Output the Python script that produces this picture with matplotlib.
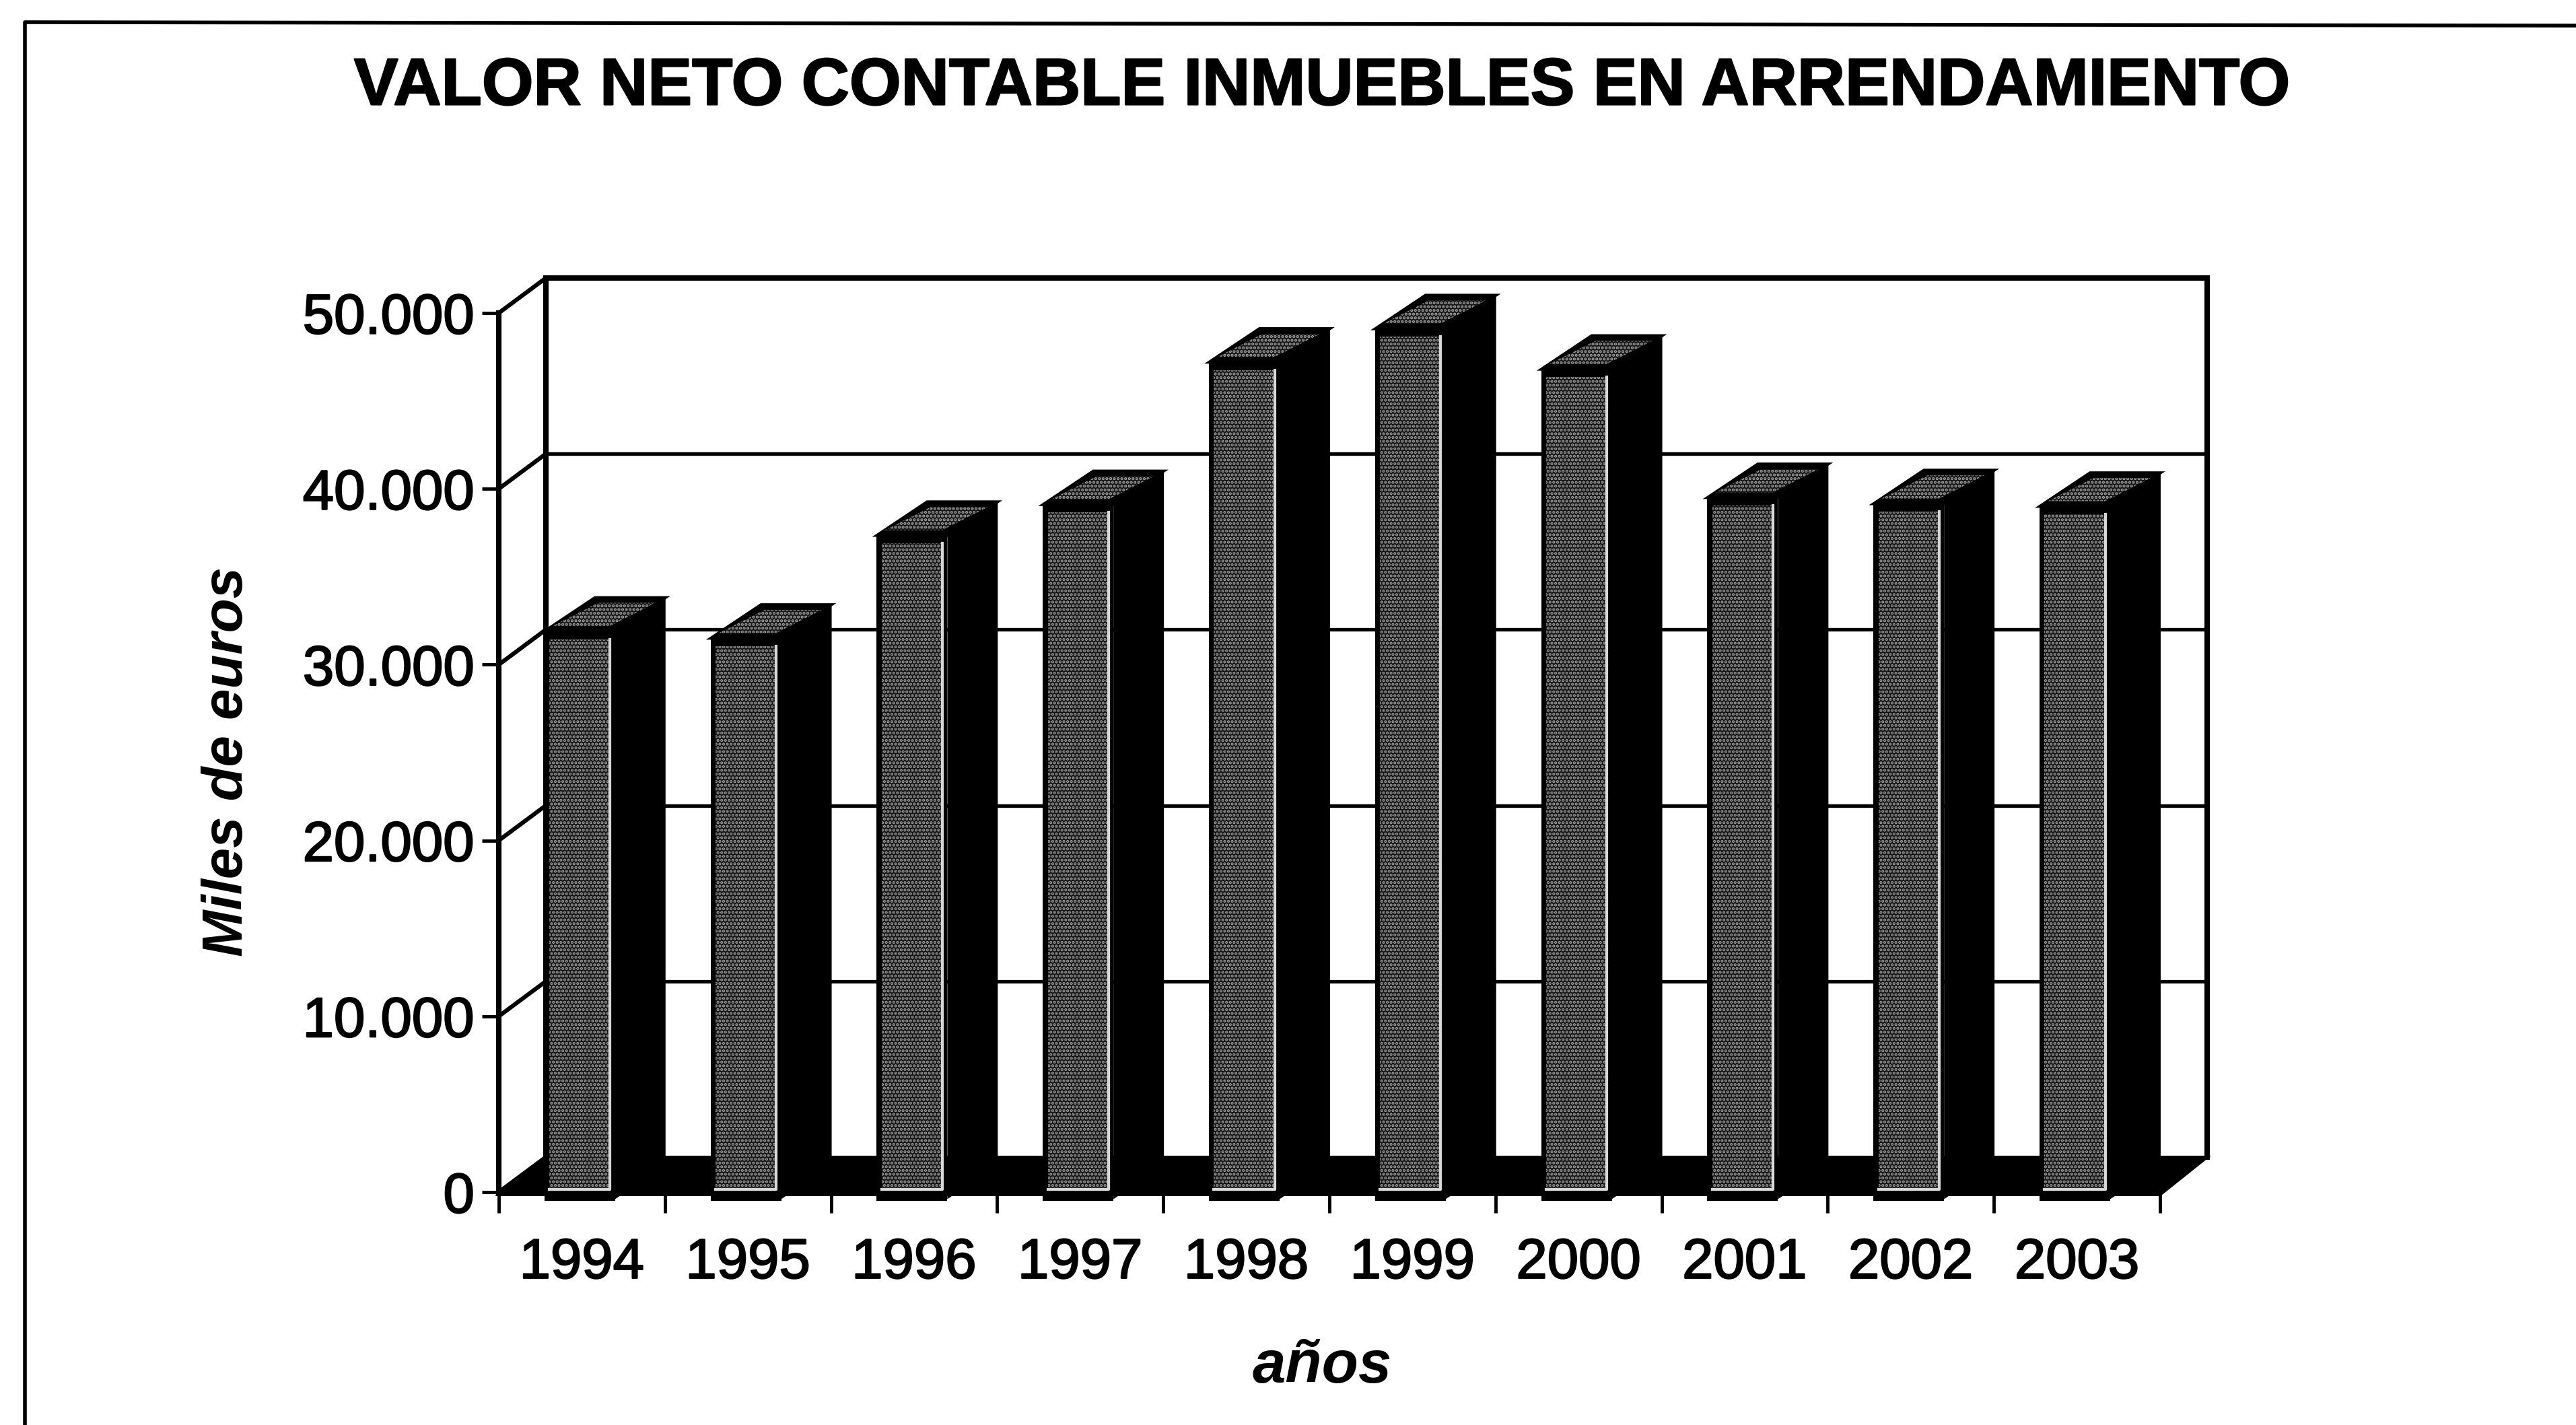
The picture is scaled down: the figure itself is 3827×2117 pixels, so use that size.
import matplotlib
matplotlib.use('Agg')
import matplotlib.pyplot as plt
from matplotlib.lines import Line2D
import matplotlib.patheffects as pe

years = ['1994', '1995', '1996', '1997', '1998', '1999', '2000', '2001', '2002', '2003']
values = [31900, 31500, 37350, 39100, 47200, 49100, 46800, 39500, 39150, 39000]
yticks = [0, 10000, 20000, 30000, 40000, 50000]
ylabels = ['0', '10.000', '20.000', '30.000', '40.000', '50.000']

W, H = 3827, 2117
plt.rcParams['font.family'] = ['Liberation Sans', 'DejaVu Sans']
plt.rcParams['hatch.linewidth'] = 2.2
f1 = plt.figure(figsize=(W/100, H/100), dpi=100, facecolor='w')
thick = [pe.withStroke(linewidth=1.6, foreground='k')]

# front plane of the fake 3d box, pixels from the reference
ax1 = f1.add_axes([741/W, 1-1771/H, (3209-741)/W, (1771-465)/H])
ax1.set_xlim(0, 10)
ax1.set_ylim(0, 50000)
ax1.patch.set_visible(False)
for s in ax1.spines.values():
    s.set_visible(False)

xpx, ypx = 246.8, 0.02612     # pixels per data unit
dx, dy = 70/xpx, 52/ypx       # wall depth
bx, by = 75/xpx, 50/ypx       # bar depth
bar_left, bar_w = 0.275, 0.425

# walls and grid
ax1.plot([dx, dx], [dy, 50000+dy], 'k', lw=5.8, clip_on=False, zorder=1)
ax1.plot([10+dx, 10+dx], [dy, 50000+dy], 'k', lw=5.8, clip_on=False, zorder=1)
ax1.plot([0, 0], [0, 50000], 'k', lw=5.8, clip_on=False, zorder=1)
for t in yticks[1:]:
    lw = 5.8 if t == 50000 else 3.8
    ax1.plot([dx, 10+dx], [t+dy, t+dy], 'k', lw=lw, clip_on=False, zorder=1)
for t in yticks:
    ax1.plot([0, dx], [t, t+dy], 'k', lw=4.5, clip_on=False, zorder=1)

# floor
ax1.fill([0, 10, 10+dx, dx], [-150, -150, dy, dy], facecolor='k', edgecolor='k', lw=3, clip_on=False, zorder=2)

ax1.set_xticks(range(11))
ax1.set_xticklabels([])
ax1.set_yticks(yticks)
ax1.set_yticklabels(ylabels, fontsize=60, path_effects=thick)
ax1.tick_params(axis='y', length=18, width=3.5, pad=8)
ax1.tick_params(axis='x', length=22, width=3.5)
for i in range(len(years)):
    ax1.text(i+0.5, -4050, years[i], fontsize=60, ha='center', va='center', path_effects=thick)

# bars
for i in range(len(years)):
    x0 = i+bar_left
    x1 = x0+bar_w
    v = values[i]
    ax1.fill([x1, x1+bx, x1+bx, x1], [-400, by-400, v+by, v], 'k', clip_on=False, zorder=3)
    ax1.fill([x0, x1, x1+bx, x0+bx], [v, v, v+by, v+by], facecolor='k', edgecolor='k',
             lw=3, clip_on=False, zorder=3)
    ax1.fill([x0+0.05, x1-0.03, x1+bx-0.06, x0+bx+0.02], [v+300, v+300, v+by-300, v+by-300],
             facecolor='#141414', edgecolor='#a0a0a0', hatch='...', lw=0, clip_on=False, zorder=4)
    ax1.bar(x0, v+500, bottom=-500, width=bar_w, align='edge', color='k', clip_on=False, zorder=4)
    ax1.bar(x0+0.03, v-600, bottom=150, width=bar_w-0.06, align='edge', facecolor='#141414',
            edgecolor='#9a9a9a', hatch='...', lw=0, clip_on=False, zorder=5)
    ax1.plot([x0+0.03, x1-0.03, x1-0.03], [150, 150, v-450], color='#d8d8d8', lw=3,
             clip_on=False, zorder=6)

ax1.set_ylabel('Miles de euros', fontsize=60, fontweight='bold', style='italic', va='center')
ax1.yaxis.set_label_coords((338-741)/(3209-741), 0.49)

f1.text(1964/W, 1-130/H, 'VALOR NETO CONTABLE INMUEBLES EN ARRENDAMIENTO', fontsize=71,
        fontweight='bold', ha='center', va='center', path_effects=thick)
f1.text(1964/W, 1-2031/H, 'años', fontsize=64, fontweight='bold', style='italic', ha='center', va='center')

# page frame
f1.add_artist(Line2D([37/W, 37/W, 1], [0, 1-33/H, 1-38/H], color='k', lw=4))

plt.savefig('out.png')
